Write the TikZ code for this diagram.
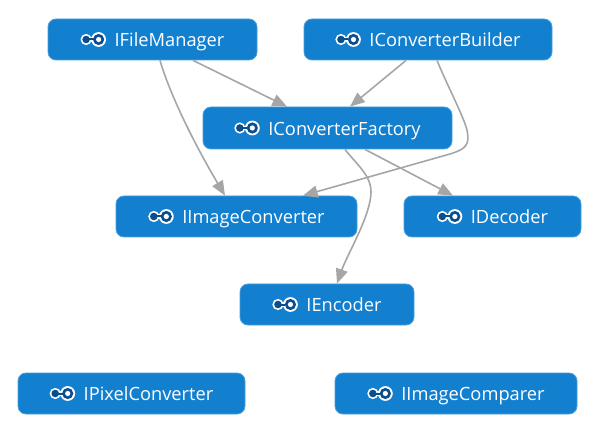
\documentclass[tikz,border=0pt]{standalone}
\usepackage{fontspec}
\setmainfont{Open Sans}
\usetikzlibrary{arrows.meta,calc}
\definecolor{boxblue}{HTML}{1380CF}
\definecolor{boxedge}{HTML}{4A9EDB}
\definecolor{icondark}{HTML}{0B4E8E}
\definecolor{linkgrey}{HTML}{A6A6A6}
\newlength{\labelwd}
\newcommand{\boxfont}{\fontsize{13.7pt}{15pt}\selectfont}
\tikzset{
  x=0.75pt,y=-0.75pt,
  boxnode/.style={draw=boxedge,line width=0.6pt,fill=boxblue,rounded corners=6pt,inner sep=0pt,text=white,
    font=\boxfont,text height=13.2pt,text depth=2pt},
  link/.style={draw=linkgrey,line width=1.2pt,-{Triangle[length=11pt,width=9pt,fill=linkgrey]}},
  pics/ifaceicon/.style={code={
    \fill[white] (0,0) circle (7.4);
    \fill[white] (-12.5,0) circle (5.6);
    \fill[white] (-12.5,-2.2) rectangle (0,2.2);
    \fill[icondark] (0,0) circle (5.6);
    \fill[white] (0,0) circle (2.6);
    \fill[icondark] (-12.5,0) circle (3.8);
    \fill[icondark] (-12.5,-1) rectangle (-5,1);
  }},
}
% name, left, top, right, bottom, text
\newcommand{\ifacebox}[6]{%
  \node[boxnode,minimum width=#4*0.75pt-#2*0.75pt,minimum height=#5*0.75pt-#3*0.75pt]
    (#1) at ({(#2+#4)/2},{(#3+#5)/2}) {\settowidth{\labelwd}{#6}\global\labelwd=\labelwd\hspace*{25.5pt}#6};
  \path ([xshift=13.5pt-0.5\labelwd-12.75pt]#1.center) pic {ifaceicon};%
}
\begin{document}
\begin{tikzpicture}
\useasboundingbox (0,0) rectangle (593,424);
\ifacebox{fm}{48}{19}{257}{60}{IFileManager}
\ifacebox{cb}{304}{19}{552}{60}{IConverterBuilder}
\ifacebox{cf}{203}{107}{452}{149}{IConverterFactory}
\ifacebox{ic}{116}{196}{357}{237}{IImageConverter}
\ifacebox{de}{404}{196}{581}{237}{IDecoder}
\ifacebox{en}{240}{284}{414}{325}{IEncoder}
\ifacebox{pc}{18}{373}{245}{414}{IPixelConverter}
\ifacebox{co}{335}{373}{577}{414}{IImageComparer}
\draw[link] ($(fm.south)+(40.5,0)$) -- ($(cf.north)+(-40.5,0)$);
\draw[link] ($(fm.south)+(7.5,0)$) .. controls (170,95) and (195,145) .. ($(ic.north)+(-11.5,0)$);
\draw[link] ($(cb.south)+(-22,0)$) -- ($(cf.north)+(22.5,0)$);
\draw[link] ($(cb.south)+(9,0)$) .. controls (447,85) and (463,115) .. (467,130) .. controls (470,145) and (466,149) .. (450,154) -- ($(ic.north)+(66.5,0)$);
\draw[link] ($(cf.south)+(37.5,0)$) -- ($(de.north)+(-39.5,0)$);
\draw[link] ($(cf.south)+(17.5,0)$) .. controls (357,165) and (371,175) .. (371,192) .. controls (371,215) and (347,255) .. ($(en.north)+(10,0)$);
\end{tikzpicture}
\end{document}
